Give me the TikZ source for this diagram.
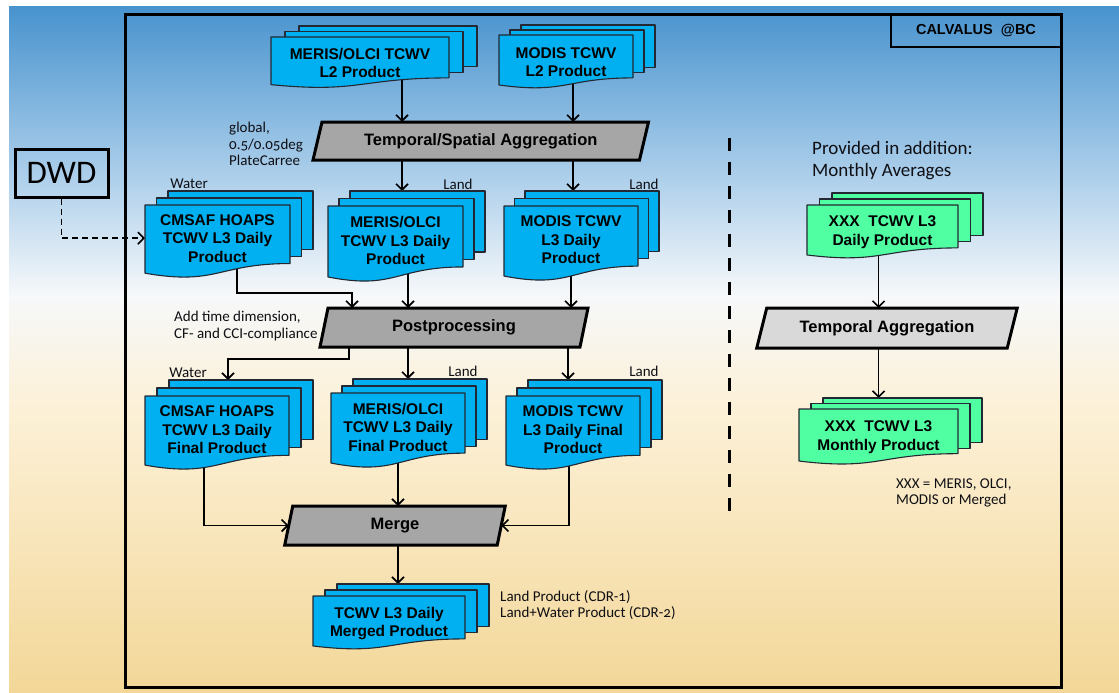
\documentclass[tikz,border=0pt]{standalone}
\usepackage{fontspec}
\setmainfont{Carlito}
\newfontfamily\arialf{Liberation Sans}
\newfontfamily\labf{Carlito}[Numbers=OldStyle]
\usetikzlibrary{arrows.meta}
\pgfdeclarelayer{bgl}
\pgfdeclarelayer{arrowl}
\pgfdeclarelayer{shapes}
\pgfsetlayers{bgl,arrowl,shapes,main}
\definecolor{docblue}{RGB}{0,176,240}
\definecolor{docgreen}{RGB}{80,255,162}
\definecolor{grayA}{RGB}{166,166,166}
\definecolor{grayB}{RGB}{217,217,217}
\definecolor{docedge}{RGB}{35,40,50}
\definecolor{labcol}{RGB}{15,15,20}
\definecolor{bgTan}{RGB}{243,215,152}
\definecolor{bgCream}{RGB}{252,241,216}
\definecolor{bgWhite}{RGB}{246,248,250}
\definecolor{bgLight}{RGB}{178,210,236}
\definecolor{bgBlue}{RGB}{72,147,206}
\pgfdeclareverticalshading{bgshade}{100bp}{color(0bp)=(bgTan); color(25bp)=(bgTan); color(46bp)=(bgCream); color(54bp)=(bgWhite); color(62bp)=(bgLight); color(75bp)=(bgBlue); color(100bp)=(bgBlue)}
\tikzset{
  docline/.style={draw=docedge, line width=1.1pt, line join=round},
  doctext/.style={font=\arialf\bfseries\fontsize{15.5}{18.5}\selectfont, align=center, inner sep=0pt, outer sep=0pt, text=black},
  paratext/.style={font=\arialf\bfseries\fontsize{16.5}{19}\selectfont, inner sep=0pt, outer sep=0pt, text=black},
  parabox/.style={draw=black, line width=3pt, line join=miter},
  arr/.style={line width=1.8pt, -{Straight Barb[length=6pt,width=12pt,line width=1.6pt]}},
  dasharr/.style={line width=1.8pt, dash pattern=on 6pt off 4pt, -{Straight Barb[length=6pt,width=12pt,line width=1.6pt]}},
  sepline/.style={line width=3pt, dash pattern=on 13pt off 11pt},
  lab/.style={font=\labf\fontsize{15}{16.5}\selectfont, text=labcol, inner sep=0pt, align=left},
  frame/.style={draw=black, line width=3pt},
}
\def\docf{0.45}
\newcommand\docstack[9]{%
  \begin{pgfonlayer}{shapes}
  \begin{scope}[shift={(#2,#3)}]
    \filldraw[docline,fill=#8] (2*#6,-2*#7) rectangle ++(#4,0.802*#5);
    \filldraw[docline,fill=#8] (#6,-#7) rectangle ++(#4,0.802*#5);
    \filldraw[docline,fill=#8] (0,0) -- (#4,0) -- (#4,0.802*#5) .. controls (0.5*#4,0.802*#5) and (0.5*#4,1.1075*#5) .. (0,0.934*#5) -- cycle;
  \end{scope}
  \end{pgfonlayer}
  \coordinate (#1-top) at (#2+2*#6,#3-2*#7);
  \node[doctext, minimum width=#4pt] (#1) at (#2+0.5*#4,#3+\docf*#5) {#9};}
\newcommand\paral[8]{%
  \node[paratext, minimum width=#4pt, minimum height=#5pt] (#1) at (#2,#3) {#8};
  \begin{pgfonlayer}{shapes}
  \filldraw[parabox, fill=#7] ([xshift=#6pt]#1.north west) -- ([xshift=#6pt]#1.north east) -- ([xshift=-#6pt]#1.south east) -- ([xshift=-#6pt]#1.south west) -- cycle;
  \end{pgfonlayer}}
\begin{document}
\begin{tikzpicture}[x=1pt,y=-1pt]
\useasboundingbox (0,0) rectangle (1119,693);
\begin{pgfonlayer}{bgl}
\shade[shading=bgshade] (9,7) rectangle (1119,693);
\end{pgfonlayer}

% documents
\def\docf{0.51}
\docstack{mL2}{271}{37}{178}{51}{14}{5.5}{docblue}{MERIS/OLCI TCWV\\L2 Product}
\docstack{dL2}{499}{35}{134}{53.5}{11}{5}{docblue}{MODIS TCWV\\L2 Product}
\docstack{mrg}{313}{596}{152}{53.5}{12}{6}{docblue}{TCWV L3 Daily\\Merged Product}
\docstack{xD}{807}{205}{151}{53.5}{12.5}{6}{docgreen}{XXX\ \ TCWV L3\\Daily Product}
\docstack{xM}{799}{409}{159}{55.7}{12}{5.5}{docgreen}{XXX\ \ TCWV L3\\Monthly Product}
\def\docf{0.455}
\docstack{cL3}{145}{205}{145}{73}{11.5}{7}{docblue}{CMSAF HOAPS\\TCWV L3 Daily\\Product}
\docstack{mL3}{328}{206}{135}{76}{11}{7.5}{docblue}{MERIS/OLCI\\TCWV L3 Daily\\Product}
\docstack{dL3}{504}{206}{134}{75}{10.5}{7.5}{docblue}{MODIS TCWV\\L3 Daily\\Product}
\docstack{cF}{145}{396}{144}{74}{12}{8}{docblue}{CMSAF HOAPS\\TCWV L3 Daily\\Final Product}
\docstack{mF}{331}{393}{134}{75}{11}{7}{docblue}{MERIS/OLCI\\TCWV L3 Daily\\Final Product}
\docstack{dF}{506}{396}{134}{74}{11}{8}{docblue}{MODIS TCWV\\L3 Daily Final\\Product}

% process steps
\paral{tsa}{480.75}{141}{326.5}{38}{4.5}{grayA}{Temporal/Spatial Aggregation}
\paral{post}{454}{327.5}{260}{39}{4}{grayA}{Postprocessing}
\paral{merge}{395}{525.5}{212.5}{39}{4}{grayA}{Merge}
\paral{ta}{887}{328}{250.5}{40}{5}{grayB}{Temporal Aggregation}

% DWD
\node[draw=black, line width=3pt, minimum width=93pt, minimum height=48pt, inner sep=0pt, font=\fontsize{33}{33}\selectfont, text=black] (dwd) at (61.5,173) {DWD};

% helper coordinates
\coordinate (xa) at (402,0);
\coordinate (xb) at (573,0);
\coordinate (xc) at (408,0);
\coordinate (xd) at (571,0);
\coordinate (xe) at (568,0);
\coordinate (k1) at (237,293);
\coordinate (k2) at (352,293);
\coordinate (k3) at (349,359);
\coordinate (k4) at (228,359);
\coordinate (k5) at (204,0);
\coordinate (k6) at (569,0);
\coordinate (s1) at (729,138);
\coordinate (s2) at (729,522);

\begin{pgfonlayer}{arrowl}
\draw[arr] (mL2 -| xa) -- (tsa.north -| xa);
\draw[arr] (dL2 -| xb) -- (tsa.north -| xb);
\draw[arr] (tsa -| xa) -- (mL3-top -| xa);
\draw[arr] (tsa -| xb) -- (dL3-top -| xb);
\draw[arr] (cL3 -| k1) -- (k1) -- (k2) -- (post.north -| k2);
\draw[arr] (mL3 -| xc) -- (post.north -| xc);
\draw[arr] (dL3 -| xd) -- (post.north -| xd);
\draw[arr] (post -| k3) -- (k3) -- (k4) -- (cF-top -| k4);
\draw[arr] (post -| xc) -- (mF-top -| xc);
\draw[arr] (post -| xe) -- (dF-top -| xe);
\draw[arr] (cF -| k5) |- (merge.west);
\draw[arr] (mF) -- (mF |- merge.north);
\draw[arr] (dF -| k6) |- (merge.east);
\draw[arr] (merge -| mF) -- (mrg-top -| mF);
\draw[arr] (xD -| xM) -- (ta.north -| xM);
\draw[arr] (ta -| xM) -- (xM-top -| xM);
\draw[dasharr] (dwd.south) |- (cL3.west);
\end{pgfonlayer}

\draw[sepline] (s1) -- (s2);

% labels
\node[lab, anchor=west] (glob) at (229,144) {global,\\0.5/0.05deg\\PlateCarree};
\node[lab] (w1) at (189,184) {Water};
\node[lab] (l1) at (458,184) {Land};
\node[lab] (l2) at (644,184) {Land};
\node[lab] (w2) at (188,373) {Water};
\node[lab] (l3) at (463,371) {Land};
\node[lab] (l4) at (644,371) {Land};
\node[lab, anchor=west] (tdim) at (174,326) {Add time dimension,\\CF- and CCI-compliance};
\node[lab, anchor=west] (cdr) at (500,605) {Land Product (CDR-1)\\Land+Water Product (CDR-2)};
\node[lab, anchor=west, font=\labf\fontsize{19}{22}\selectfont] (prov) at (812,161) {Provided in addition:\\Monthly Averages};
\node[lab, anchor=west] (xxx) at (896,493) {XXX = MERIS, OLCI,\\MODIS or Merged};

% frame
\draw[frame] (125,15) rectangle (1061,687);
\node[draw=black, line width=2.5pt, minimum width=170pt, minimum height=32pt, inner sep=0pt, font=\arialf\bfseries\fontsize{14.5}{16}\selectfont] (calv) at (976,31) {CALVALUS\ \ @BC};
\end{tikzpicture}
\end{document}
